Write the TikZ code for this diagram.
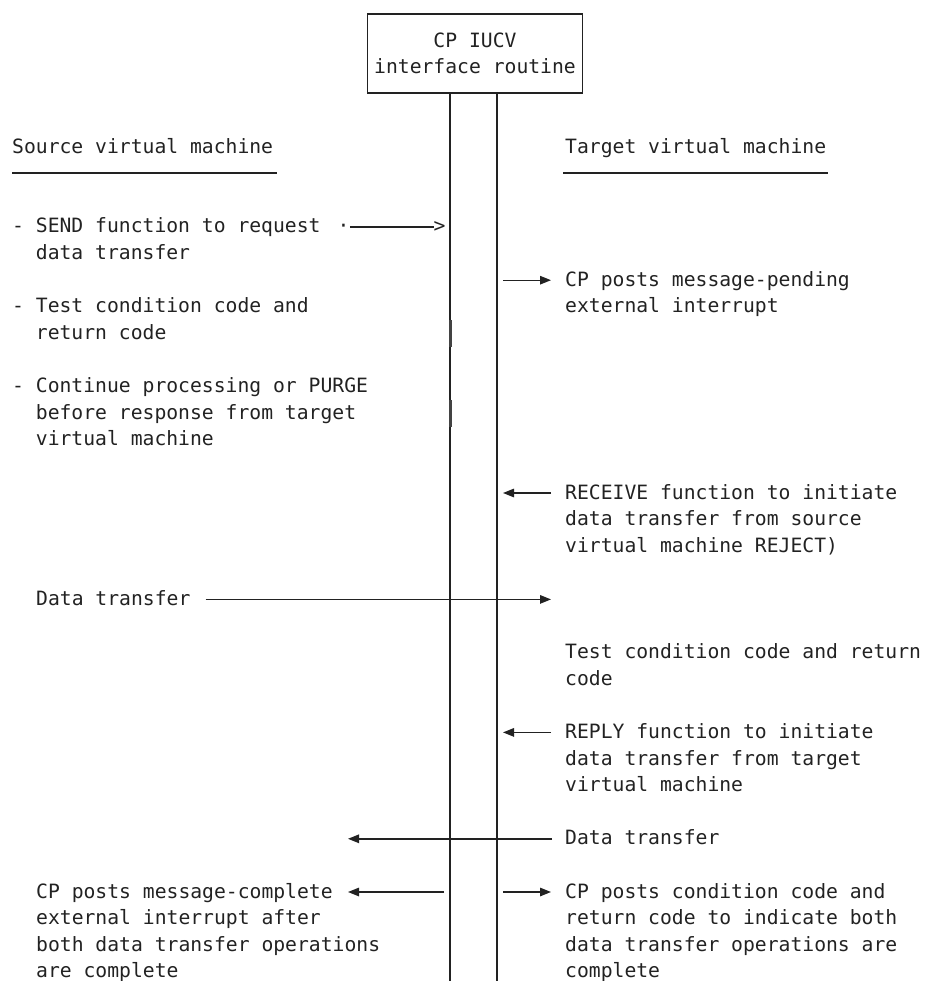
\documentclass[tikz,border=0pt]{standalone}
\usepackage{fontspec}
\newfontfamily\monof{DejaVu Sans Mono}
\usetikzlibrary{arrows.meta}
\definecolor{ink}{HTML}{222222}
\newcommand\ind{\hspace*{23.72pt}}
% stacked lines whose baseline is the first line's baseline
\newcommand\ml[1]{\begin{tabular}[t]{@{}l@{}}#1\end{tabular}}
\begin{document}
\begin{tikzpicture}[x=1pt,y=-1pt,
  txt/.style={font=\monof\fontsize{19.7}{26.6}\selectfont, text=ink, inner sep=0pt,
              anchor=base west},
  ln/.style={draw=ink, line width=1.4pt},
  arr/.style={ln, -{Triangle[length=11pt,width=8.5pt]}},
  bar/.style={draw=ink, line width=1.5pt}
]
\useasboundingbox (0,0) rectangle (926,981);

% interface routine box and its two lanes
\node[draw=ink, line width=1.4pt, minimum width=215pt, minimum height=79pt, inner sep=0pt,
      font=\monof\fontsize{19.7}{26.6}\selectfont, text=ink, align=center]
  (box) at (475,53.5) {CP IUCV\\interface routine};
\coordinate (lvb) at (450,981);
\coordinate (rvb) at (497,981);
\draw[bar] (box.south -| lvb) -- (lvb);
\draw[bar] (box.south -| rvb) -- (rvb);
% heavier strokes on the left lane
\draw[draw=ink!85, line width=2.6pt] (450.4,320) -- (450.4,347);
\draw[draw=ink!85, line width=2.6pt] (450.4,400) -- (450.4,427);

% column headings
\node[txt] (src) at (12,153.2) {Source virtual machine};
\node[txt] (tgt) at (565,153.2) {Target virtual machine};
\draw[ln] (src.west |- 0,173) -- ([xshift=4pt]src.east |- 0,173);
\draw[ln] ([xshift=-2pt]tgt.west |- 0,173) -- ([xshift=2pt]tgt.east |- 0,173);

% source side
\node[txt] (send) at (12,233) {\ml{- SEND function to request\\\ind data transfer}};
\node[txt] (senddot) at (337.5,233) {·};
\node[txt] (sendgt) at (433.5,233) {>};
\draw[ln] ([yshift=6pt]senddot.base east) -- ([yshift=6pt]sendgt.base west);

\node[txt] (test) at (12,312.8) {\ml{- Test condition code and\\\ind return code}};
\node[txt] (cont) at (12,392.6) {\ml{- Continue processing or PURGE\\\ind before response from target\\\ind virtual machine}};

\node[txt] (dtl) at (36,605.4) {Data transfer};
\node[txt] (comp) at (36,898) {\ml{CP posts message-complete\\external interrupt after\\both data transfer operations\\are complete}};

% target side
\node[txt] (pend) at (565,286.2) {\ml{CP posts message-pending\\external interrupt}};
\node[txt] (recv) at (565,499) {\ml{RECEIVE function to initiate\\data transfer from source\\virtual machine REJECT)}};
\node[txt] (test2) at (565,658.6) {\ml{Test condition code and return\\code}};
\node[txt] (reply) at (565,738.4) {\ml{REPLY function to initiate\\data transfer from target\\virtual machine}};
\node[txt] (dtr) at (565,844.8) {Data transfer};
\node[txt] (cond) at (565,898) {\ml{CP posts condition code and\\return code to indicate both\\data transfer operations are\\complete}};

% arrows between the lanes and the text
\coordinate (pendS) at (503,280.2);
\draw[arr] (pendS) -- ([xshift=-14pt,yshift=6pt]pend.base west);

\coordinate (recvE) at (503,493);
\draw[arr] ([xshift=-14pt,yshift=6pt]recv.base west) -- (recvE);

\coordinate (dtlE) at (551,599.4);
\draw[arr] ([xshift=15pt,yshift=6pt]dtl.base east) -- (dtlE);

\coordinate (replyE) at (503,732.4);
\draw[arr] ([xshift=-14pt,yshift=6pt]reply.base west) -- (replyE);

\coordinate (dtrE) at (348,838.8);
\draw[arr] ([xshift=-13pt,yshift=6pt]dtr.base west) -- (dtrE);

\coordinate (compS) at (444,892);
\draw[arr] (compS) -- (348,892);

\coordinate (condS) at (503,892);
\draw[arr] (condS) -- ([xshift=-14pt,yshift=6pt]cond.base west);
\end{tikzpicture}
\end{document}
